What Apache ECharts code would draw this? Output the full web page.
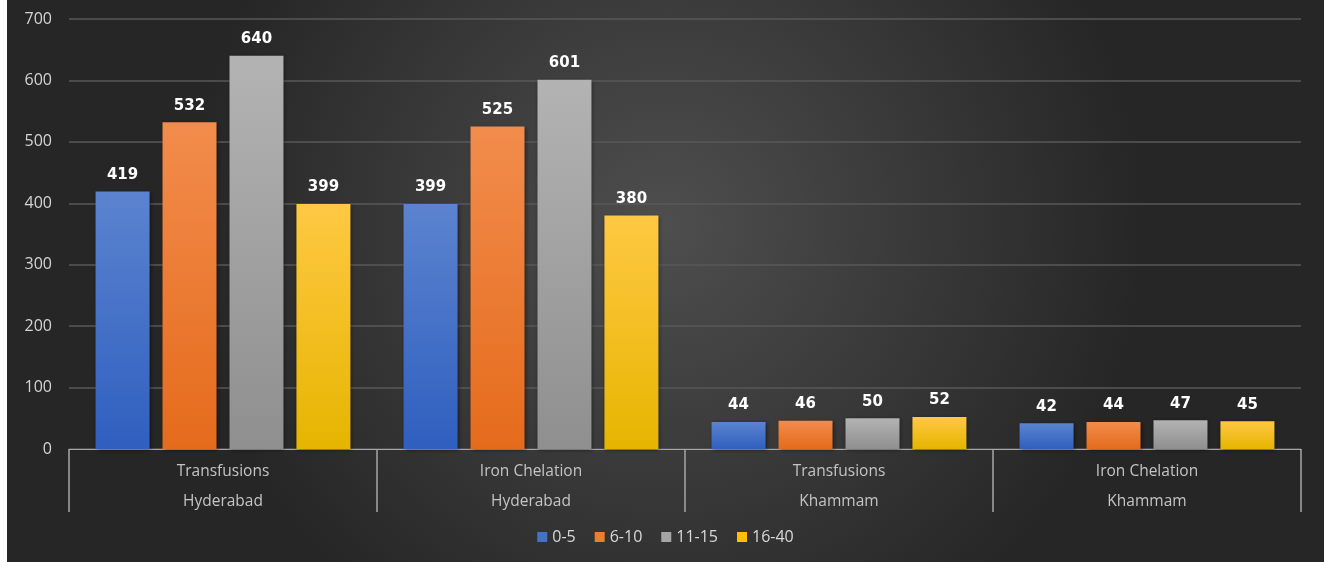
<!DOCTYPE html>
<html>
<head>
<meta charset="utf-8">
<script src="https://cdn.jsdelivr.net/npm/echarts@6/dist/echarts.min.js"></script>
<style>
html,body{margin:0;padding:0;background:#ffffff;}
#chart{position:absolute;left:7px;top:0;width:1317px;height:562px;}
</style>
</head>
<body>
<div id="chart"></div>
<script>
const categories = ['Transfusions\nHyderabad', 'Iron Chelation\nHyderabad', 'Transfusions\nKhammam', 'Iron Chelation\nKhammam'];
const seriesNames = ['0-5', '6-10', '11-15', '16-40'];
const age0to5 = [419, 399, 44, 42];
const age6to10 = [532, 525, 46, 44];
const age11to15 = [640, 601, 50, 47];
const age16to40 = [399, 380, 52, 45];
const yTicks = [0, 100, 200, 300, 400, 500, 600, 700];

const seriesData = [age0to5, age6to10, age11to15, age16to40];
const colorPairs = [
  ['#5b83cf', '#2f5fbf'],
  ['#f28c4c', '#e56b1c'],
  ['#b3b3b3', '#8f8f8f'],
  ['#ffc843', '#e6b500']
];
const legendColors = ['#4472c4', '#ed7d31', '#a5a5a5', '#ffc000'];

const chart = echarts.init(document.getElementById('chart'), null, {renderer: 'canvas'});
const option = {
  backgroundColor: {
    type: 'radial', x: 0.5, y: 0.4, r: 0.85,
    colorStops: [
      {offset: 0, color: '#4e4e4e'},
      {offset: 1, color: '#262626'}
    ]
  },
  animation: false,
  textStyle: {fontFamily: 'Open Sans'},
  grid: {left: 62, right: 23, top: 19, bottom: 113},
  legend: {
    top: 524,
    left: 'center',
    itemWidth: 10,
    itemHeight: 10,
    itemGap: 19,
    icon: 'rect',
    textStyle: {color: '#d9d9d9', fontSize: 16, fontFamily: 'Open Sans', padding: [0, 0, 0, 0]},
    data: seriesNames.map((n, i) => ({name: n, itemStyle: {color: legendColors[i]}}))
  },
  xAxis: {
    type: 'category',
    data: categories,
    boundaryGap: true,
    axisLine: {show: true, lineStyle: {color: '#a6a6a6', width: 1}},
    axisTick: {show: true, interval: 0, length: 63, lineStyle: {color: '#a6a6a6', width: 1.5}},
    axisLabel: {
      interval: 0, margin: 8, color: '#c4c4c4', fontSize: 15.5,
      lineHeight: 30, fontFamily: 'Open Sans'
    },
    splitLine: {show: false}
  },
  yAxis: {
    type: 'value',
    min: yTicks[0],
    max: yTicks[yTicks.length - 1],
    interval: 100,
    axisLine: {show: false},
    axisTick: {show: false},
    axisLabel: {color: '#d4d4d4', fontSize: 16, margin: 17, fontFamily: 'Open Sans'},
    splitLine: {show: true, lineStyle: {color: '#585858', width: 1.5}}
  },
  series: seriesData.map((d, i) => ({
    name: seriesNames[i],
    type: 'bar',
    data: d,
    barWidth: 54,
    barGap: '24%',
    itemStyle: {
      color: {
        type: 'linear', x: 0, y: 0, x2: 0, y2: 1,
        colorStops: [
          {offset: 0, color: colorPairs[i][0]},
          {offset: 1, color: colorPairs[i][1]}
        ]
      },
      shadowColor: 'rgba(0,0,0,0.45)',
      shadowBlur: 4,
      shadowOffsetX: 1,
      shadowOffsetY: 1
    },
    label: {
      show: true,
      position: 'top',
      distance: 9,
      color: '#ffffff',
      fontWeight: 'bold',
      fontSize: 15,
      fontFamily: 'DejaVu Sans'
    }
  }))
};
chart.setOption(option);
</script>
</body>
</html>
